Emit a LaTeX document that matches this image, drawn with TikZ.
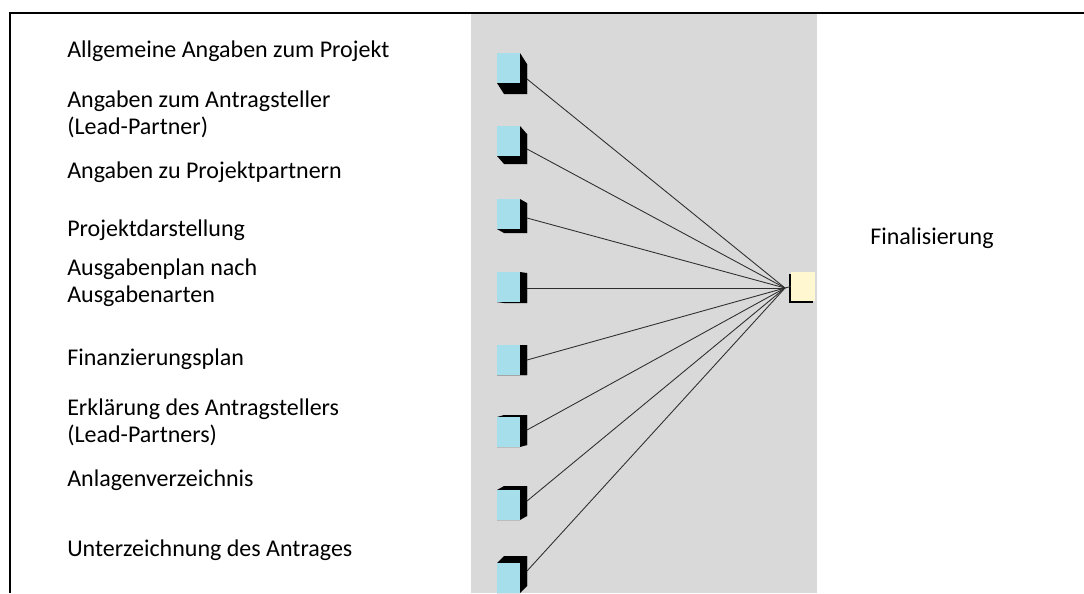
\documentclass[tikz,border=0pt]{standalone}
\usepackage{fontspec}
\setmainfont{Carlito}
\definecolor{panelgray}{RGB}{217,217,217}
\definecolor{boxblue}{RGB}{166,222,236}
\definecolor{boxcream}{RGB}{255,247,207}
\definecolor{linkgray}{RGB}{45,45,45}
\tikzset{
  label/.style={anchor=base west,inner sep=0pt,align=left,
    font=\fontsize{18}{20.25}\selectfont},
  facebox/.style={fill=boxblue,draw=none,inner sep=0pt,
    minimum width=17.25pt,minimum height=22.5pt},
  finbox/.style={fill=boxcream,draw=none,inner sep=0pt,
    minimum width=18pt,minimum height=21.75pt},
  link/.style={draw=linkgray,line width=0.65pt}
}
% block with black depth: name, centre y, depth offset
\newcommand{\blockbox}[3]{%
  \fill[black] (497,#2-15) -- (520,#2-15) -- (527,#2-15+#3) -- (527,#2+15+#3)
    -- (504,#2+15+#3) -- (497,#2+15) -- cycle;
  \fill[black] (497,#2-15) -- (504,#2-15+#3) -- (527,#2-15+#3) -- (527,#2+15+#3)
    -- (520,#2+15) -- (497,#2+15) -- cycle;
  \node[facebox] (#1) at (508.5,#2) {};
  \coordinate (#1e) at (527,#2+#3);
}
\begin{document}
\begin{tikzpicture}[x=0.75pt,y=-0.75pt]
    \useasboundingbox (0,0) rectangle (1084,593);
    \fill[panelgray] (471,14) rectangle (817,593);
    \draw[line width=1.5pt] (9.5,593) -- (9.5,13) -- (1084,13);

    % two-line labels sit on the baseline of their last line
    \node[label] (l1) at (67,57) {Allgemeine Angaben zum Projekt};
    \node[label] (l2) at (67,134) {Angaben zum Antragsteller\\(Lead-Partner)};
    \node[label] (l3) at (67,178) {Angaben zu Projektpartnern};
    \node[label] (l4) at (67,236) {Projektdarstellung};
    \node[label] (l5) at (67,302) {Ausgabenplan nach\\Ausgabenarten};
    \node[label] (l6) at (67,365) {Finanzierungsplan};
    \node[label] (l7) at (67,442) {Erklärung des Antragstellers\\(Lead-Partners)};
    \node[label] (l8) at (67,486) {Anlagenverzeichnis};
    \node[label] (l9) at (67,556) {Unterzeichnung des Antrages};
    \node[label] (lfin) at (870,244) {Finalisierung};

    \blockbox{b1}{68}{11}
    \blockbox{b2}{141}{8}
    \blockbox{b3}{214}{4}
    \blockbox{b4}{287}{1}
    \blockbox{b5}{360}{0}
    \blockbox{b6}{432}{-2}
    \blockbox{b7}{505}{-4}
    \blockbox{b8}{578}{-7}

    \fill[black] (789,274) rectangle (813,303);
    \node[finbox] (fin) at (803,286.5) {};
    \coordinate (join) at (785,288);

    \draw[link] (b1e) to (join);
    \draw[link] (b2e) to (join);
    \draw[link] (b3e) to (join);
    \draw[link] (b4e) to (join);
    \draw[link] (b5e) to (join);
    \draw[link] (b6e) to (join);
    \draw[link] (b7e) to (join);
    \draw[link] (b8e) to (join);
    \draw[link] (join) to (fin.west);
\end{tikzpicture}
\end{document}
